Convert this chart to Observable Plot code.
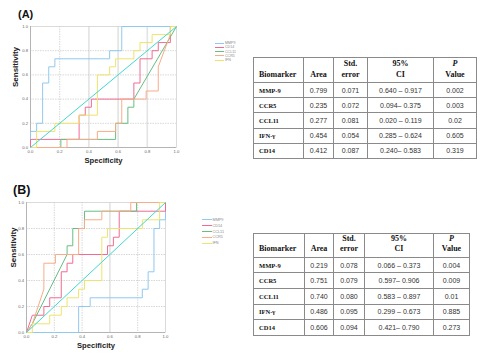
<!DOCTYPE html>
<html><head><meta charset="utf-8">
<script src="https://cdn.jsdelivr.net/npm/d3@7"></script>
<script src="https://cdn.jsdelivr.net/npm/@observablehq/plot@0.6"></script>
<style>
html,body{margin:0;padding:0;background:#fff;}
#root{position:relative;width:486px;height:354px;overflow:hidden;font-family:"Liberation Sans",Arial,sans-serif;}
.plotbox{position:absolute;}
.panel{position:absolute;font-weight:bold;color:#111;line-height:1;font-family:"Liberation Sans",Arial,sans-serif;}
.legend{position:absolute;color:#8a8a8a;font-family:"Liberation Sans",Arial,sans-serif;}
.legend .row{position:absolute;left:0;white-space:nowrap;}
.legend .sw{display:inline-block;height:1px;vertical-align:middle;margin-right:1px;}
table.t{position:absolute;border-collapse:collapse;table-layout:fixed;border:1.5px solid #222;}
table.t td{border:1px solid #8a8a8a;padding:0;text-align:center;vertical-align:middle;font-family:"Liberation Sans",Arial,sans-serif;font-size:7px;color:#333;overflow:hidden;white-space:nowrap;}
table.t td.bm{text-align:left;padding-left:5px;font-family:"Liberation Serif","Times New Roman",serif;font-weight:bold;font-size:6.5px;color:#111;}
table.t tr.h td{font-family:"Liberation Serif","Times New Roman",serif;font-weight:bold;font-size:8px;color:#111;vertical-align:bottom;padding-bottom:2px;line-height:1.3;}
</style></head>
<body><div id="root"></div>
<script>
// ---------- data ----------
const seriesNames = ["MMP9", "CD14", "CCL11", "CCR5", "IFN"];
const seriesColors = ["#92c9ee", "#f26a92", "#66be82", "#f8ac88", "#eee36c"];
const refColor = "#40d8d2";
const refLine = [[0, 0], [1, 1]];
const tickValues = [0, 0.2, 0.4, 0.6, 0.8, 1];
const gridValues = [0.2, 0.4, 0.6, 0.8];

// Panel A ROC curves: [1 - specificity, sensitivity]
const rocA_MMP9 = [[0,0],[0,0.133],[0.042,0.133],[0.042,0.2],[0.083,0.2],[0.083,0.533],[0.125,0.533],[0.125,0.667],[0.167,0.667],[0.167,0.733],[0.542,0.733],[0.542,0.8],[0.625,0.8],[0.625,1],[1,1]];
const rocA_CD14 = [[0,0],[0,0.067],[0.333,0.067],[0.333,0.267],[0.375,0.267],[0.375,0.333],[0.417,0.333],[0.417,0.4],[0.708,0.4],[0.708,0.533],[0.75,0.533],[0.75,0.733],[0.833,0.733],[0.833,0.8],[0.875,0.8],[0.875,0.867],[0.958,0.867],[0.958,1],[1,1]];
const rocA_CCL11 = [[0,0],[0.208,0],[0.208,0.067],[0.583,0.067],[0.583,0.2],[0.667,0.2],[0.667,0.333],[0.708,0.333],[0.708,0.4],[1,1]];
const rocA_CCR5 = [[0,0],[0.25,0],[0.25,0.067],[0.458,0.067],[0.458,0.133],[0.583,0.133],[0.583,0.2],[0.625,0.2],[0.625,0.4],[0.792,0.4],[0.792,0.467],[0.875,0.467],[0.875,0.667],[0.958,0.933],[0.958,1],[1,1]];
const rocA_IFN = [[0,0],[0.042,0],[0.042,0.133],[0.167,0.133],[0.167,0.2],[0.333,0.2],[0.333,0.267],[0.458,0.267],[0.458,0.6],[0.542,0.6],[0.542,0.667],[0.583,0.667],[0.583,0.733],[0.708,0.733],[0.708,0.8],[0.75,0.8],[0.75,0.867],[0.833,0.867],[0.833,0.933],[0.958,0.933],[0.958,1],[1,1]];

// Panel B ROC curves
const rocB_MMP9 = [[0,0],[0.375,0],[0.375,0.2],[0.458,0.2],[0.458,0.267],[0.833,0.267],[0.833,0.333],[0.875,0.333],[0.875,0.467],[0.917,0.467],[0.917,0.8],[0.958,0.8],[0.958,0.867],[1,0.867],[1,1]];
const rocB_CD14 = [[0,0],[0.042,0.133],[0.125,0.133],[0.125,0.2],[0.167,0.2],[0.167,0.267],[0.25,0.267],[0.25,0.467],[0.292,0.467],[0.292,0.533],[0.333,0.533],[0.333,0.6],[0.583,0.6],[0.583,0.667],[0.625,0.667],[0.625,0.733],[0.667,0.733],[0.667,0.933],[1,0.933],[1,1]];
const rocB_CCL11 = [[0,0],[0.042,0.067],[0.292,0.6],[0.292,0.667],[0.333,0.667],[0.333,0.8],[0.417,0.8],[0.417,0.933],[0.792,0.933],[0.792,1],[1,1]];
const rocB_CCR5 = [[0,0],[0.042,0.067],[0.125,0.333],[0.125,0.533],[0.208,0.533],[0.208,0.6],[0.375,0.6],[0.375,0.8],[0.417,0.8],[0.417,0.867],[0.542,0.867],[0.542,0.933],[0.75,0.933],[0.75,1],[1,1]];
const rocB_IFN = [[0,0],[0.042,0],[0.042,0.067],[0.167,0.067],[0.167,0.133],[0.25,0.133],[0.25,0.2],[0.292,0.2],[0.292,0.267],[0.375,0.267],[0.375,0.333],[0.417,0.333],[0.417,0.4],[0.542,0.4],[0.542,0.733],[0.583,0.733],[0.583,0.8],[0.833,0.8],[0.833,0.867],[0.958,0.867],[0.958,1],[1,1]];

// Tables
const tableHeader = ["Biomarker", "Area", "Std.<br>error", "95%<br>CI", "<i>P</i><br>Value"];
const biomarkers = ["MMP-9", "CCR5", "CCL11", "IFN-\u03b3", "CD14"];
const tableA_area = ["0.799", "0.235", "0.277", "0.454", "0.412"];
const tableA_se = ["0.071", "0.072", "0.081", "0.054", "0.087"];
const tableA_ci = ["0.640 \u2013 0.917", "0.094\u2013 0.375", "0.020 \u2013 0.119", "0.285 \u2013 0.624", "0.240\u2013 0.583"];
const tableA_p = ["0.002", "0.003", "0.02", "0.605", "0.319"];
const tableB_area = ["0.219", "0.751", "0.740", "0.486", "0.606"];
const tableB_se = ["0.078", "0.079", "0.080", "0.095", "0.094"];
const tableB_ci = ["0.066 \u2013 0.373", "0.597\u2013 0.906", "0.583 \u2013 0.897", "0.299 \u2013 0.673", "0.421\u2013 0.790"];
const tableB_p = ["0.004", "0.009", "0.01", "0.885", "0.273"];

// ---------- drawing ----------
const root = document.getElementById("root");

function rocChart(o) {
  const rows = [];
  o.series.forEach((pts, i) => pts.forEach(([x, y]) => rows.push({name: seriesNames[i], x, y})));
  const fmt = d3.format(".1f");
  return Plot.plot({
    width: o.width, height: o.height,
    marginLeft: o.ml, marginRight: o.mr, marginTop: o.mt, marginBottom: o.mb,
    style: {fontFamily: "Liberation Sans, Arial, sans-serif", fontSize: "4.2px", color: "#666", background: "transparent", overflow: "visible"},
    x: {domain: [0, 1], ticks: tickValues, tickFormat: fmt, tickSize: 0, tickPadding: 2.5, label: null},
    y: {domain: [0, 1], ticks: tickValues, tickFormat: fmt, tickSize: 0, tickPadding: 2.5, label: null},
    color: {domain: seriesNames, range: seriesColors},
    marks: [
      Plot.ruleX(o.solidX, {stroke: "#e3e3e3", strokeWidth: 1.6}),
      Plot.ruleX(o.dashedX, {stroke: "#bdbdbd", strokeWidth: 0.6, strokeDasharray: "1.5,1"}),
      Plot.ruleY(gridValues, {stroke: "#bdbdbd", strokeWidth: 0.6, strokeDasharray: "1.5,1"}),
      Plot.frame({stroke: "#d2d2d2", strokeWidth: 0.8}),
      Plot.ruleX([0], {stroke: "#aaa", strokeWidth: 0.8}),
      Plot.ruleY([0], {stroke: "#aaa", strokeWidth: 0.8}),
      Plot.line(rows, {x: "x", y: "y", z: "name", stroke: "name", strokeWidth: 1}),
      Plot.line(refLine, {x: d => d[0], y: d => d[1], stroke: refColor, strokeWidth: 1}),
      Plot.text(["Sensitivity"], {text: d => d, frameAnchor: "left", dx: -o.yLabelOffset, rotate: -90, fontSize: 8, fontWeight: "bold", fill: "#222"}),
      Plot.text(["Specificity"], {text: d => d, frameAnchor: "bottom", dy: o.xLabelOffset, fontSize: 7.6, fontWeight: "bold", fill: "#222"})
    ]
  });
}

function place(el, left, top) {
  const box = document.createElement("div");
  box.className = "plotbox";
  box.style.left = left + "px";
  box.style.top = top + "px";
  box.appendChild(el);
  root.appendChild(box);
}

function panelLabel(text, left, top, size) {
  const d = document.createElement("div");
  d.className = "panel";
  d.textContent = text;
  d.style.left = left + "px"; d.style.top = top + "px"; d.style.fontSize = size + "px";
  root.appendChild(d);
}

function legend(left, top, gap, fontSize, lineW) {
  const d = document.createElement("div");
  d.className = "legend";
  d.style.left = left + "px"; d.style.top = top + "px"; d.style.fontSize = fontSize + "px";
  seriesNames.forEach((n, i) => {
    const r = document.createElement("div");
    r.className = "row";
    r.style.top = (i * gap - gap / 2) + "px";
    r.style.height = gap + "px"; r.style.lineHeight = gap + "px";
    const sw = document.createElement("span");
    sw.className = "sw";
    sw.style.width = lineW + "px";
    sw.style.background = seriesColors[i];
    r.appendChild(sw);
    r.appendChild(document.createTextNode(n));
    d.appendChild(r);
  });
  root.appendChild(d);
}

function table(left, top, colW, headH, rowH, area, se, ci, p) {
  const t = document.createElement("table");
  t.className = "t";
  t.style.left = left + "px"; t.style.top = top + "px";
  t.style.width = d3.sum(colW) + "px";
  const cg = document.createElement("colgroup");
  colW.forEach(w => { const c = document.createElement("col"); c.style.width = w + "px"; cg.appendChild(c); });
  t.appendChild(cg);
  const hr = document.createElement("tr");
  hr.className = "h"; hr.style.height = headH + "px";
  tableHeader.forEach((h, j) => {
    const td = document.createElement("td");
    td.innerHTML = h;
    if (j === 0) { td.style.textAlign = "left"; td.style.paddingLeft = "5px"; }
    hr.appendChild(td);
  });
  t.appendChild(hr);
  biomarkers.forEach((b, i) => {
    const tr = document.createElement("tr");
    tr.style.height = rowH + "px";
    [b, area[i], se[i], ci[i], p[i]].forEach((v, j) => {
      const td = document.createElement("td");
      td.textContent = v;
      if (j === 0) td.className = "bm";
      tr.appendChild(td);
    });
    t.appendChild(tr);
  });
  root.appendChild(t);
}

// Panel A
panelLabel("(A)", 18, 8.5, 11);
place(rocChart({
  series: [rocA_MMP9, rocA_CD14, rocA_CCL11, rocA_CCR5, rocA_IFN],
  width: 180, height: 170, ml: 30, mr: 4, mt: 26, mb: 23,
  solidX: [0.4, 0.6, 0.8], dashedX: [0.2],
  yLabelOffset: 15, xLabelOffset: 15
}), 0, 0);
legend(215, 43.3, 4.2, 3.6, 9);
table(253, 57, [50, 30, 34, 66, 43], 25, 15.2, tableA_area, tableA_se, tableA_ci, tableA_p);

// Panel B
panelLabel("(B)", 13, 184, 12.5);
place(rocChart({
  series: [rocB_MMP9, rocB_CD14, rocB_CCL11, rocB_CCR5, rocB_IFN],
  width: 170, height: 179, ml: 26, mr: 5, mt: 27, mb: 22,
  solidX: [0.6], dashedX: [0.2, 0.4, 0.8],
  yLabelOffset: 13, xLabelOffset: 15
}), 0, 175);
legend(201.5, 220.7, 5.9, 3.8, 10);
table(253, 233, [51, 29, 31, 69, 36], 22, 15.6, tableB_area, tableB_se, tableB_ci, tableB_p);
</script></body></html>
